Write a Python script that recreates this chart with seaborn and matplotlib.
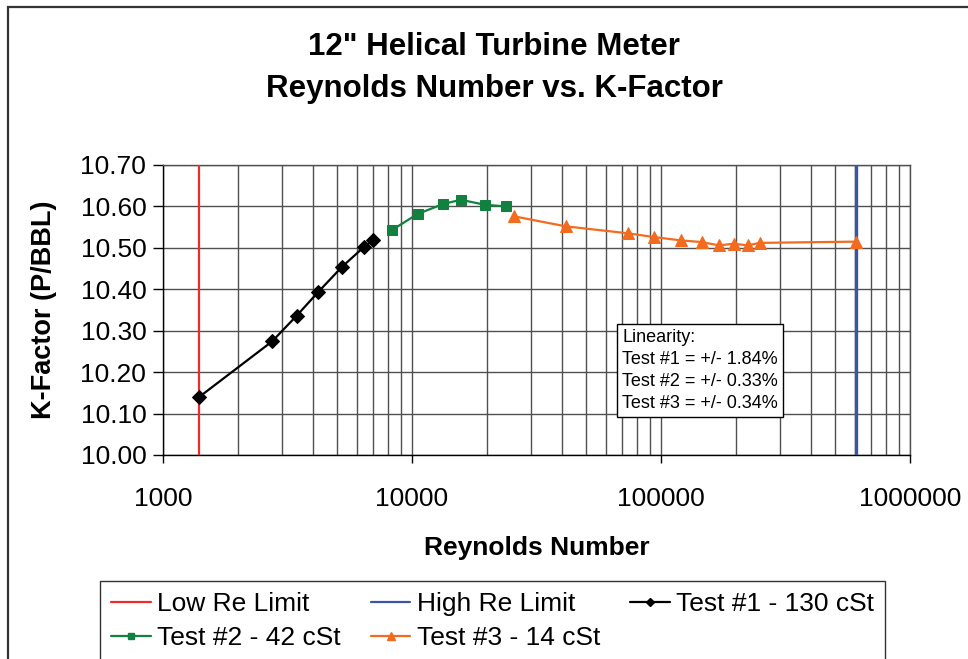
import matplotlib
matplotlib.use("Agg")
import matplotlib.pyplot as plt
import seaborn as sns
import pandas as pd
from matplotlib.patches import Rectangle
from matplotlib.lines import Line2D

# ---- data ----
title_lines = ['12" Helical Turbine Meter', 'Reynolds Number vs. K-Factor']
re1 = [1390, 2740, 3440, 4210, 5230, 6410, 6990]
k1 = [10.139, 10.274, 10.336, 10.394, 10.454, 10.502, 10.519]
re2 = [8350, 10550, 13370, 15700, 19630, 23930]
k2 = [10.544, 10.582, 10.606, 10.616, 10.604, 10.600]
re3 = [25760, 41380, 73890, 93770, 120300, 145500, 171000, 195900, 223000, 249000, 605000]
k3 = [10.576, 10.552, 10.535, 10.526, 10.518, 10.514, 10.506, 10.510, 10.506, 10.512, 10.515]
low_re_limit = 1390
high_re_limit = 605000
y_ticks = [10.00, 10.10, 10.20, 10.30, 10.40, 10.50, 10.60, 10.70]
x_ticks = [1000, 10000, 100000, 1000000]
series_names = ["Test #1 - 130 cSt", "Test #2 - 42 cSt", "Test #3 - 14 cSt"]
limit_names = ["Low Re Limit", "High Re Limit"]
linearity = ["Linearity:", "Test #1 = +/- 1.84%", "Test #2 = +/- 0.33%", "Test #3 = +/- 0.34%"]

sns.set_style("white")
plt.rcParams['font.family'] = ['Liberation Sans', 'DejaVu Sans']
plt.rcParams['text.color'] = 'black'
plt.rcParams['axes.labelcolor'] = 'black'
plt.rcParams['xtick.color'] = 'black'
plt.rcParams['ytick.color'] = 'black'

W, H = 968, 659
fig = plt.figure(figsize=(W / 100, H / 100), dpi=100)
ax = fig.add_axes([163 / W, 1 - 455 / H, (910 - 163) / W, (455 - 165) / H])

grid_c = '#505050'
# figure border
fig.patches.append(Rectangle((8 / W, -0.1), 1.2, (659 - 6) / H + 0.1 - 0.001,
                             transform=fig.transFigure, fill=False,
                             ec='#333333', lw=1.6, zorder=0))

df1 = pd.DataFrame({"Re": re1, "K": k1})
df2 = pd.DataFrame({"Re": re2, "K": k2})
df3 = pd.DataFrame({"Re": re3, "K": k3})

c1, c2, c3 = 'black', '#12803f', '#f26b1f'
red, blue = '#ee2a2a', '#3a55a8'

ax.axvline(low_re_limit, color=red, lw=1.6, zorder=3)
ax.axvline(high_re_limit, color=blue, lw=2.4, zorder=3)

sns.lineplot(data=df1, x="Re", y="K", ax=ax, color=c1, lw=1.6, marker='D',
             markersize=7, markeredgecolor=c1, sort=False, zorder=4)
sns.lineplot(data=df2, x="Re", y="K", ax=ax, color=c2, lw=1.6, marker='s',
             markersize=7, markeredgecolor=c2, sort=False, zorder=4)
sns.lineplot(data=df3, x="Re", y="K", ax=ax, color=c3, lw=1.6, marker='^',
             markersize=8.5, markeredgecolor=c3, sort=False, zorder=4)

ax.set_xscale('log')
ax.set_xlim(1000, 1000000)
ax.set_ylim(10.0, 10.7)
ax.set_yticks(y_ticks)
ax.set_yticklabels([f"{v:.2f}" for v in y_ticks])
ax.set_xticks(x_ticks)
ax.set_xticklabels([str(v) for v in x_ticks])
ax.xaxis.set_minor_formatter(plt.NullFormatter())
ax.grid(True, which='major', axis='both', color=grid_c, lw=1.0)
ax.grid(True, which='minor', axis='x', color=grid_c, lw=1.0)
ax.set_axisbelow(True)

for s in ['top', 'right']:
    ax.spines[s].set_color(grid_c)
    ax.spines[s].set_linewidth(1.0)
for s in ['left', 'bottom']:
    ax.spines[s].set_color('black')
    ax.spines[s].set_linewidth(1.0)

ax.tick_params(axis='y', which='major', direction='out', length=7, width=1,
               color='black', labelsize=19, pad=5, left=True)
ax.tick_params(axis='x', which='major', direction='out', length=6, width=1,
               color='black', labelsize=19, pad=17, bottom=True)
ax.tick_params(axis='x', which='minor', length=0)

ax.set_xlabel("Reynolds Number", fontsize=19, fontweight='bold', labelpad=18)
ax.set_ylabel("K-Factor (P/BBL)", fontsize=19.5, fontweight='bold', labelpad=17)

tx = 494 / W
fig.text(tx, 1 - 47 / H, title_lines[0], ha='center', va='center',
         fontsize=22.5, fontweight='bold')
fig.text(tx, 1 - 89 / H, title_lines[1], ha='center', va='center',
         fontsize=22.5, fontweight='bold')

ax.text((622 - 163) / 747, (455 - 329) / 290, "\n".join(linearity),
        transform=ax.transAxes, ha='left', va='top', fontsize=13, linespacing=1.38,
        zorder=10,
        bbox=dict(boxstyle='square,pad=0.3', fc='white', ec='black', lw=1.0))

# legend (row-wise order for ncol=3)
h_low = Line2D([], [], color=red, lw=1.6)
h_high = Line2D([], [], color=blue, lw=1.6)
h1 = Line2D([], [], color=c1, lw=1.6, marker='D', markersize=4)
h2 = Line2D([], [], color=c2, lw=1.6, marker='s', markersize=5)
h3 = Line2D([], [], color=c3, lw=1.6, marker='^', markersize=6)
handles = [h_low, h2, h_high, h3, h1]
labels = [limit_names[0], series_names[1], limit_names[1], series_names[2], series_names[0]]
leg = fig.legend(handles, labels, loc='upper left', bbox_to_anchor=(100 / W, 1 - 581 / H),
                 ncol=3, fontsize=19, frameon=True, fancybox=False, edgecolor='black',
                 handlelength=1.5, handletextpad=0.25, columnspacing=1.13,
                 labelspacing=0.38, borderpad=0.42, borderaxespad=0)
leg.get_frame().set_linewidth(1.0)

fig.savefig("out.png", dpi=100)
